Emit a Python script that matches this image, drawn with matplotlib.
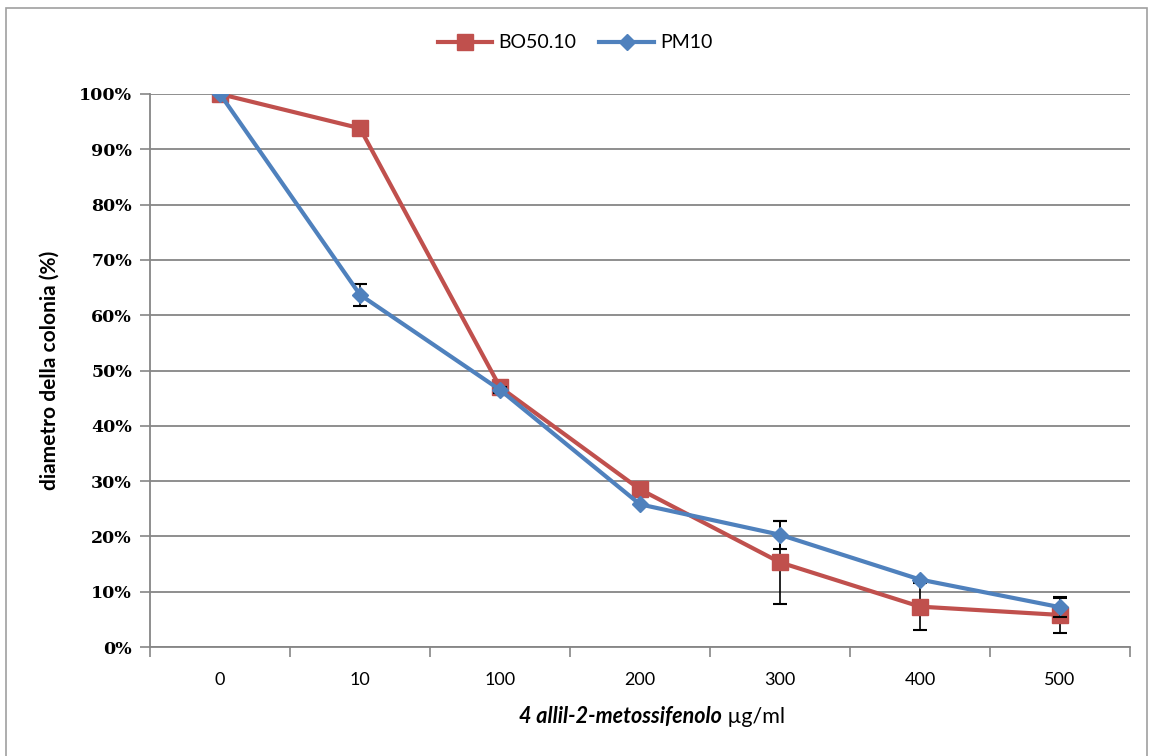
"""
Diametro della colonia vs concentrazione di 4 allil-2-metossifenolo.
"""

import matplotlib
matplotlib.use("Agg")
import matplotlib.pyplot as plt
from matplotlib.lines import Line2D
from matplotlib.patches import Rectangle
from matplotlib.ticker import FuncFormatter

CONCENTRAZIONI = ["0", "10", "100", "200", "300", "400", "500"]

BO50_10 = [1.000, 0.938, 0.470, 0.285, 0.153, 0.073, 0.058]
BO50_10_ERR = [0.0, 0.0, 0.010, 0.0, 0.075, 0.043, 0.033]

PM10 = [1.000, 0.637, 0.465, 0.258, 0.203, 0.122, 0.072]
PM10_ERR = [0.0, 0.020, 0.005, 0.0, 0.025, 0.0, 0.017]

ROSSO = "#C0504D"
BLU = "#4F81BD"
GRIGIO = "#868686"

fig = plt.figure(figsize=(11.5, 7.56), dpi=100)

# cornice esterna
fig.patches.append(Rectangle((6 / 1150, -0.01), 1141 / 1150, 1 - 8 / 756 + 0.01,
                             transform=fig.transFigure, fill=False,
                             edgecolor="#A0A0A0", linewidth=1.2))

ax = fig.add_axes([150 / 1150, 109 / 756, 980 / 1150, 553 / 756])
x = list(range(len(CONCENTRAZIONI)))

ax.errorbar(x, BO50_10, yerr=BO50_10_ERR, color=ROSSO, linewidth=3,
            marker="s", markersize=12, ecolor="black", elinewidth=1.2,
            capsize=5, capthick=1.5, zorder=3)
ax.errorbar(x, PM10, yerr=PM10_ERR, color=BLU, linewidth=3,
            marker="D", markersize=8, ecolor="black", elinewidth=1.2,
            capsize=5, capthick=1.5, zorder=4)

ax.set_xlim(-0.5, len(CONCENTRAZIONI) - 0.5)
ax.set_ylim(0, 1.0)
ax.set_yticks([i / 10 for i in range(11)])
ax.yaxis.set_major_formatter(FuncFormatter(lambda v, _: f"{v * 100:.0f}%"))
ax.set_xticks(x)
ax.set_xticklabels(CONCENTRAZIONI, family="Lato", fontsize=13)
ax.set_xticks([i - 0.5 for i in range(len(CONCENTRAZIONI) + 1)], minor=True)
ax.tick_params(axis="x", which="major", length=0, pad=18)
ax.tick_params(axis="x", which="minor", length=7, color=GRIGIO, width=1.2)
ax.tick_params(axis="y", length=7, color=GRIGIO, width=1.2, pad=6)
for lab in ax.get_yticklabels():
    lab.set_family("DejaVu Serif")
    lab.set_fontsize(12.5)
    lab.set_fontweight("bold")

ax.grid(axis="y", color=GRIGIO, linewidth=1.3)
ax.set_axisbelow(True)
for lato in ["top", "right"]:
    ax.spines[lato].set_visible(False)
for lato in ["left", "bottom"]:
    ax.spines[lato].set_color(GRIGIO)
    ax.spines[lato].set_linewidth(1.3)

ax.set_ylabel("diametro della colonia (%)", family="Lato", fontsize=15,
              fontweight="bold", labelpad=14)

# titolo asse x: parte in corsivo grassetto + unità normale
fig.text(722 / 1150, 39 / 756, "4 allil-2-metossifenolo", ha="right", va="center",
         family="Lato", fontsize=15.5, fontweight="bold", style="italic")
fig.text(722 / 1150, 39 / 756, " \u00b5g/ml", ha="left", va="center",
         family="Lato", fontsize=15.5)

legenda = [
    Line2D([], [], color=ROSSO, linewidth=3, marker="s", markersize=12, label="BO50.10"),
    Line2D([], [], color=BLU, linewidth=3, marker="D", markersize=8, label="PM10"),
]
fig.legend(handles=legenda, loc="center", bbox_to_anchor=(575 / 1150, 1 - 43 / 756),
           ncol=2, frameon=False, prop={"family": "Lato", "size": 14},
           handlelength=2.8, columnspacing=1.2, handletextpad=0.3)

fig.savefig("out.png", dpi=100)
